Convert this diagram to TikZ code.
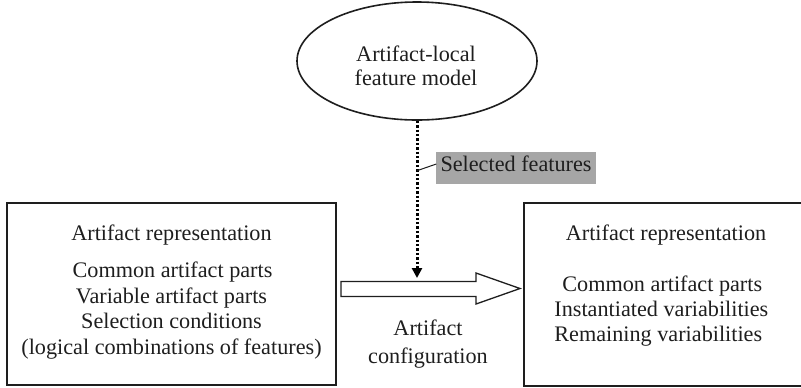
\documentclass[tikz,border=0pt]{standalone}
\usepackage{fontspec}
\setmainfont{Liberation Serif}
\usetikzlibrary{shapes.geometric,arrows.meta,calc}
\definecolor{selgrey}{HTML}{A6A6A6}
\definecolor{ink}{HTML}{1E1E1E}
\begin{document}
\begin{tikzpicture}[x=0.5pt,y=-0.5pt,
  txt/.style={font=\fontsize{11.1}{13}\selectfont, text=ink, inner sep=0pt, anchor=base},
  txtw/.style={txt, anchor=base west},
  boxline/.style={draw=ink, line width=0.9pt, inner sep=0pt},
  selarrow/.style={draw=black, line width=1.5pt, dash pattern=on 1.2pt off 1pt, -{Triangle[length=5pt,width=5pt]}},
  bigarrow/.style={draw=ink, line width=0.65pt, fill=white, line join=miter}]
\useasboundingbox (0,0) rectangle (801,387);

% ellipse
\node[ellipse, draw=ink, line width=0.8pt, minimum width=120pt, minimum height=59pt, inner sep=0pt] (ell) at (417,61) {};
\node[txt] (ellA) at (416,61.7) {Artifact-local};
\node[txt] (ellB) at (416,85) {feature model};

% selected features label
\node[fill=selgrey, inner sep=0pt, minimum width=80pt, minimum height=16.3pt,
      text height=7.5pt, text depth=3.8pt, font=\fontsize{11.1}{13}\selectfont, text=ink] (sel) at (516,168) {Selected features};

% boxes
\node[boxline, minimum width=164.5pt, minimum height=91pt] (lbox) at (171.5,294) {};
\node[boxline, minimum width=139.5pt, minimum height=91.5pt] (rbox) at (663.5,294.5) {};

% left box text
\node[txt] (l1) at (171.5,240) {Artifact representation};
\node[txt] (l2) at (172.5,277.7) {Common artifact parts};
\node[txt] (l3) at (171.5,303) {Variable artifact parts};
\node[txt] (l4) at (171.5,328) {Selection conditions};
\node[txt] (l5) at (171.5,354) {(logical combinations of features)};

% right box text
\node[txt] (r1) at (666,240) {Artifact representation};
\node[txtw] (r2) at (562,291) {Common artifact parts};
\node[txtw] (r3) at (554,316.7) {Instantiated variabilities};
\node[txtw] (r4) at (554,341.7) {Remaining variabilities};

% big arrow
\coordinate (atail) at (341,289);
\coordinate (atip) at (520,288.5);
\draw[bigarrow] (341,281.5) -- (476,281.5) -- (476,273) -- (atip) -- (476,304) -- (476,296.5) -- (341,296.5) -- cycle;
\node[txt] (c1) at (428,335.5) {Artifact};
\node[txt] (c2) at (428,363) {configuration};

% dotted arrow
\coordinate (dend) at (417,278);
\draw[selarrow] (ell.south) -- (dend);
\coordinate (lead) at (417,170.7);
\draw[draw=ink, line width=0.5pt] ($(sel.west)+(0.7,-4)$) -- (lead);
\end{tikzpicture}
\end{document}
